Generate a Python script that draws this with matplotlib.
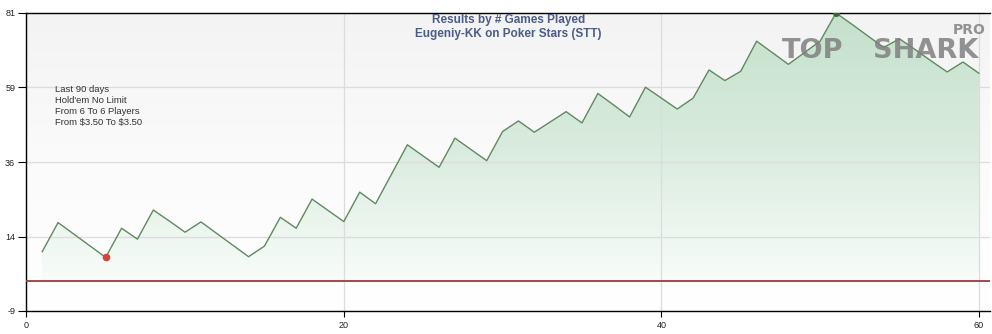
import numpy as np
import matplotlib
matplotlib.use("Agg")
import matplotlib.pyplot as plt
from matplotlib.colors import LinearSegmentedColormap

# ---------------- data ----------------
games = list(range(1, 61))
results = [8.9, 17.7, 14.2, 10.7, 7.2, 16.0, 12.7, 21.5, 18.2, 14.8,
           17.9, 14.4, 10.9, 7.4, 10.6, 19.3, 16.0, 24.8, 21.4, 18.0,
           26.9, 23.4, 32.3, 41.2, 37.8, 34.4, 43.2, 39.8, 36.4, 45.2,
           48.4, 45.0, 48.1, 51.2, 47.8, 56.7, 53.2, 49.6, 58.6, 55.3,
           52.0, 55.3, 63.8, 60.6, 63.4, 72.5, 69.0, 65.5, 69.0, 72.5,
           81.0, 77.6, 74.1, 70.6, 73.2, 69.9, 66.5, 63.2, 66.2, 62.8]
y_ticks = [-9, 13.5, 36, 58.5, 81]
y_tick_labels = ["-9", "14", "36", "59", "81"]
x_ticks = [0, 20, 40, 60]
x_tick_labels = ["0", "20", "40", "60"]
title_lines = ["Results by # Games Played", "Eugeniy-KK on Poker Stars (STT)"]
filter_lines = ["Last 90 days", "Hold'em No Limit", "From 6 To 6 Players",
                "From $3.50 To $3.50"]
baseline_value = 0

XMIN, XMAX = 0, 60.7
YMIN, YMAX = -9, 81

plt.rcParams["font.family"] = ["Liberation Sans", "DejaVu Sans"]
plt.rcParams["text.parse_math"] = False

W, H = 992, 334
fig = plt.figure(figsize=(W / 100, H / 100), dpi=100)
fig.patch.set_facecolor("white")
L, R, T, B = 26.3, 990, 13, 311
ax = fig.add_axes([L / W, 1 - B / H, (R - L) / W, (B - T) / H])
ax.set_xlim(XMIN, XMAX)
ax.set_ylim(YMIN, YMAX)

# background gradient
bg_cmap = LinearSegmentedColormap.from_list("bg", ["#ffffff", "#fbfbfb", "#f3f3f3"])
grad = np.linspace(0, 1, 256).reshape(-1, 1)
ax.imshow(grad, extent=[XMIN, XMAX, YMIN, YMAX], origin="lower", cmap=bg_cmap,
          aspect="auto", zorder=0, interpolation="bilinear")

# green gradient fill under the curve
fb = ax.fill_between(games, results, baseline_value, color="none", lw=0)
clip = fb.get_paths()[0]
fill_cmap = LinearSegmentedColormap.from_list(
    "fill", ["#f8fcfa", "#e9f4ec", "#d9ebde", "#cfe6d5", "#c4e0cb"])
im = ax.imshow(grad, extent=[XMIN, XMAX, baseline_value, YMAX], origin="lower",
               cmap=fill_cmap, aspect="auto", zorder=1, interpolation="bilinear")
im.set_clip_path(clip, transform=ax.transData)

# grid lines
for yv in y_ticks:
    ax.axhline(yv, color="#dcdcdc", lw=0.9, zorder=1.5)
for xv in x_ticks:
    ax.axvline(xv, color="#dcdcdc", lw=0.9, zorder=1.5)

# zero line
ax.axhline(baseline_value, color="#9e3a3a", lw=1.3, zorder=3)

# result line
ax.plot(games, results, color="#5f8a5f", lw=1.0, zorder=4)
imin = int(np.argmin(results))
imax = int(np.argmax(results))
ax.plot(games[imin], results[imin], "o", ms=4.5, color="#d0483a", mec="#d0483a", zorder=5)
ax.plot(games[imax], results[imax], "o", ms=4, color="#2f6a2f", mec="#2f6a2f", zorder=5)

# spines
for s in ["left", "bottom", "top"]:
    ax.spines[s].set_color("black")
    ax.spines[s].set_linewidth(1.0)
ax.spines["right"].set_visible(False)

ax.set_yticks(y_ticks)
ax.set_yticklabels(y_tick_labels)
ax.set_xticks(x_ticks)
ax.set_xticklabels(x_tick_labels)
ax.tick_params(axis="y", direction="out", length=6, width=0.8, pad=2,
               labelsize=6.5, labelcolor="#222222")
ax.tick_params(axis="x", direction="out", length=4, width=0.8, pad=3,
               labelsize=6.5, labelcolor="#222222")

# title
ax.text(0.5, 0.976, title_lines[0], transform=ax.transAxes, ha="center", va="center",
        fontsize=8.5, fontweight="bold", color="#4b5c86", zorder=6)
ax.text(0.5, 0.93, title_lines[1], transform=ax.transAxes, ha="center", va="center",
        fontsize=8.5, fontweight="bold", color="#4b5c86", zorder=6)

# filter text
for i, line in enumerate(filter_lines):
    fig.text(55 / W, 1 - (90 + i * 10.7) / H, line, ha="left", va="center",
             fontsize=6.8, color="#333333")

# watermark logo
logo_kw = dict(family="DejaVu Sans", fontweight="bold", color="#808080", alpha=0.85,
               va="baseline", ha="left", zorder=7)
fig.text(782 / W, 1 - 58 / H, "TOP", fontsize=19.5, **logo_kw)
fig.text(873 / W, 1 - 58 / H, "SHARK", fontsize=19.5, **logo_kw)
fig.text(953 / W, 1 - 34 / H, "PRO", fontsize=10, **logo_kw)

fig.savefig("out.png", dpi=100)
